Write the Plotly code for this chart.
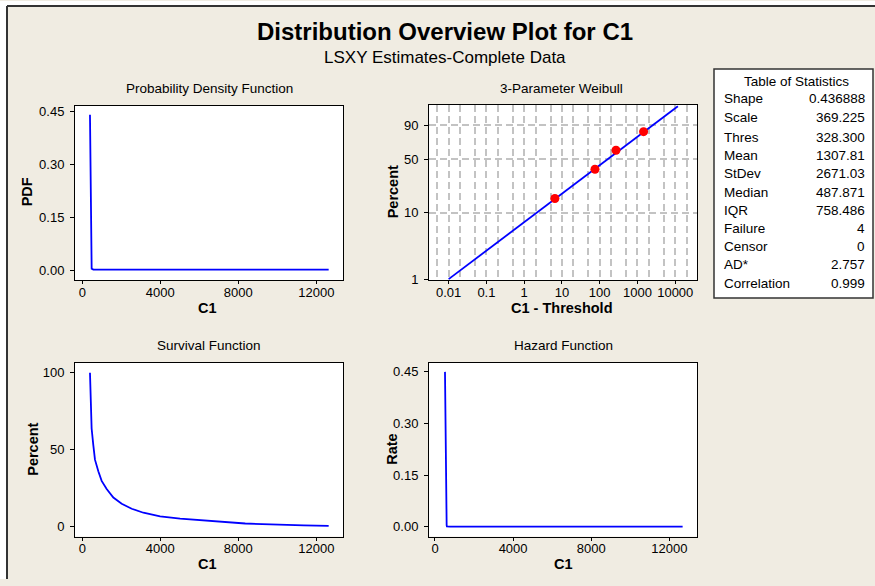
import numpy as np
import plotly.graph_objects as go

# ---------------- data ----------------
pdf_x = [394, 480, 565, 12634]
pdf_y = [0.441, 0.0046, 0.0019, 0.0015]

fit_x = [0.01, 11750]          # C1 - Threshold
fit_pct = [1.0, 98.9]          # percent
pts_x = [6.5, 75, 270, 1450]
pts_pct = [15.9, 38.6, 61.4, 84.1]

surv_x = [394, 479, 565, 650, 822, 993, 1250, 1592, 2020, 2534, 3134, 3990,
          5016, 6729, 8356, 11352, 12634]
surv_y = [100, 63.8, 53, 43.6, 36, 29.8, 24.5, 19, 14.9, 11.7, 9.1, 6.8,
          5.3, 3.6, 2.1, 0.9, 0.6]

haz_x = [512, 560, 597, 610, 768, 12683]
haz_y = [0.45, 0.0048, 0.0045, 0.001, 0.0005, 0.0003]

lin_ticks = [0, 4000, 8000, 12000]
lin_text = ["0", "4000", "8000", "12000"]
rate_ticks = [0.0, 0.15, 0.30, 0.45]
surv_ticks = [0, 50, 100]
wb_xticks = [0.01, 0.1, 1, 10, 100, 1000, 10000]
wb_xtext = ["0.01", "0.1", "1", "10", "100", "1000", "10000"]
wb_minor = [0.005, 0.02, 0.05, 0.2, 0.5, 2, 5, 20, 50, 200, 500, 2000, 5000, 20000]
wb_yticks = [1, 10, 50, 90]

stat_labels = ["Shape", "Scale", "Thres", "Mean", "StDev", "Median", "IQR",
               "Failure", "Censor", "AD*", "Correlation"]
stat_values = ["0.436888", "369.225", "328.300", "1307.81", "2671.03", "487.871",
               "758.486", "4", "0", "2.757", "0.999"]

# ---------------- helpers ----------------
W, H = 875, 586
FONT = "Liberation Sans, Arial, sans-serif"
BEIGE = "#F0ECE2"
BLUE = "#0000FF"
GRID = "#C3C3C3"


def X(px):
    return px / W


def Y(py):
    return 1 - py / H


def wb(p):
    p = np.asarray(p, dtype=float) / 100.0
    return np.log(-np.log(1 - p))


fig = go.Figure()
fig.add_trace(go.Scatter(x=pdf_x, y=pdf_y, mode="lines", line=dict(color=BLUE, width=1.8),
                         xaxis="x", yaxis="y", showlegend=False))
fig.add_trace(go.Scatter(x=fit_x, y=wb(fit_pct), mode="lines", line=dict(color=BLUE, width=1.8),
                         xaxis="x2", yaxis="y2", showlegend=False))
fig.add_trace(go.Scatter(x=pts_x, y=wb(pts_pct), mode="markers",
                         marker=dict(color="#FF0000", size=9), xaxis="x2", yaxis="y2",
                         showlegend=False))
fig.add_trace(go.Scatter(x=surv_x, y=surv_y, mode="lines", line=dict(color=BLUE, width=1.8),
                         xaxis="x3", yaxis="y3", showlegend=False))
fig.add_trace(go.Scatter(x=haz_x, y=haz_y, mode="lines", line=dict(color=BLUE, width=1.8),
                         xaxis="x4", yaxis="y4", showlegend=False))

tickfont = dict(family=FONT, size=13, color="#000000")
common = dict(showline=True, mirror=True, linecolor="#000000", linewidth=1,
              ticks="outside", tickcolor="#000000", tickfont=tickfont,
              zeroline=False, showgrid=False, fixedrange=True)
xc = dict(common, ticklen=3, ticklabelstandoff=-3)
yc = dict(common, ticklen=4, ticklabelstandoff=3)

grid = dict(showgrid=True, gridcolor=GRID, gridwidth=1.5, griddash="7px,4px")

fig.update_layout(
    width=W, height=H,
    margin=dict(l=0, r=0, t=0, b=0),
    paper_bgcolor=BEIGE, plot_bgcolor="#FFFFFF",
    xaxis=dict(domain=[X(75), X(343)], range=[-374, 13369], tickvals=lin_ticks,
               ticktext=lin_text, anchor="y", **xc),
    yaxis=dict(domain=[Y(283), Y(106)], range=[-0.028, 0.4668], tickvals=rate_ticks,
               tickformat=".2f", anchor="x", **yc),
    xaxis2=dict(domain=[X(429), X(697)], type="log", range=[-2.52, 4.576],
                tickvals=wb_xticks, ticktext=wb_xtext, anchor="y2",
                minor=dict(tickvals=wb_minor, showgrid=True, gridcolor=GRID,
                           gridwidth=1.5, griddash="7px,4px", ticks=""),
                **{**xc, **grid}),
    yaxis2=dict(domain=[Y(283), Y(105)], range=[-4.635, 1.5655],
                tickvals=list(wb(wb_yticks)), ticktext=[str(v) for v in wb_yticks],
                anchor="x2", **{**yc, **grid}),
    xaxis3=dict(domain=[X(75), X(343)], range=[-374, 13369], tickvals=lin_ticks,
                ticktext=lin_text, anchor="y3", **xc),
    yaxis3=dict(domain=[Y(543), Y(367)], range=[-6.4, 106.4], tickvals=surv_ticks,
                anchor="x3", **yc),
    xaxis4=dict(domain=[X(429), X(697)], range=[-307, 13419], tickvals=lin_ticks,
                ticktext=lin_text, anchor="y4", **xc),
    yaxis4=dict(domain=[Y(543), Y(367)], range=[-0.0287, 0.4758], tickvals=rate_ticks,
                tickformat=".2f", anchor="x4", **yc),
)

shapes = [
    # white area outside the frame
    dict(type="rect", xref="paper", yref="paper", x0=0, x1=1, y0=Y(5), y1=1,
         fillcolor="#FFFFFF", line=dict(width=0), layer="below"),
    dict(type="rect", xref="paper", yref="paper", x0=0, x1=X(7), y0=0, y1=1,
         fillcolor="#FFFFFF", line=dict(width=0), layer="below"),
    # frame lines
    dict(type="line", xref="paper", yref="paper", x0=X(7), x1=1, y0=Y(5), y1=Y(5),
         line=dict(color="#333333", width=2)),
    dict(type="line", xref="paper", yref="paper", x0=X(7), x1=X(7), y0=Y(5), y1=0,
         line=dict(color="#333333", width=2)),
    # statistics table
    dict(type="rect", xref="paper", yref="paper", x0=X(714), x1=X(873), y0=Y(301), y1=Y(69),
         fillcolor="#FFFFFF", line=dict(color="#333333", width=1.5)),
]
fig.update_layout(shapes=shapes)

ann = []


def text(px, py, s, size=13, bold=False, xanchor="center", angle=0):
    ann.append(dict(x=X(px), y=Y(py), xref="paper", yref="paper", text=f"<b>{s}</b>" if bold else s,
                    showarrow=False, xanchor=xanchor, yanchor="middle", textangle=angle,
                    font=dict(family=FONT, size=size, color="#000000")))


text(445, 31, "Distribution Overview Plot for C1", size=24, bold=True)
text(445, 57, "LSXY Estimates-Complete Data", size=17)

text(209, 89, "Probability Density Function", size=13.5)
text(561, 89, "3-Parameter Weibull", size=13.5)
text(209, 349, "Survival Function", size=13.5)
text(563, 349, "Hazard Function", size=13.5)

text(207, 311, "C1", size=14.5, bold=True)
text(562, 311, "C1 - Threshold", size=14.5, bold=True)
text(207, 571, "C1", size=14.5, bold=True)
text(563, 571, "C1", size=14.5, bold=True)

text(27, 194, "PDF", size=14.5, bold=True, angle=-90)
text(393, 194, "Percent", size=14.5, bold=True, angle=-90)
text(33, 455, "Percent", size=14.5, bold=True, angle=-90)
text(392, 455, "Rate", size=14.5, bold=True, angle=-90)

text(796, 82, "Table of Statistics", size=13.5)
row_y = [99, 118, 138, 157, 175, 194, 212, 231, 249, 267, 286]
for lab, val, ry in zip(stat_labels, stat_values, row_y):
    text(722, ry, lab, size=13.5, xanchor="left")
    text(867, ry, val, size=13.5, xanchor="right")

fig.update_layout(annotations=ann)
fig.write_html("out.html", config={"displayModeBar": False},
               post_script="document.body.style.margin='0';document.body.style.overflow='hidden';")
